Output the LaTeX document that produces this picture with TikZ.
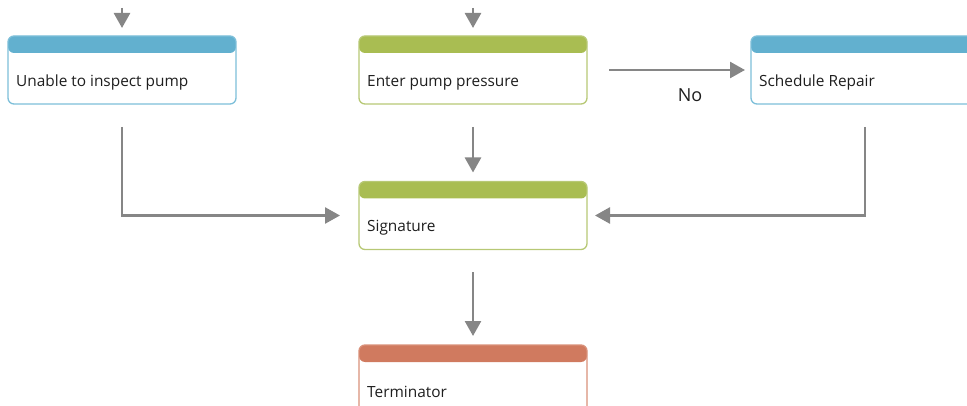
\documentclass[tikz,border=0pt]{standalone}
\usepackage{fontspec}
\setmainfont{Open Sans}
\usetikzlibrary{arrows.meta}
\definecolor{hblue}{HTML}{62B0CF}
\definecolor{bblue}{HTML}{7DBFD9}
\definecolor{hgreen}{HTML}{A9BD52}
\definecolor{bgreen}{HTML}{B7C875}
\definecolor{horange}{HTML}{D07A5F}
\definecolor{borange}{HTML}{D99079}
\definecolor{agray}{HTML}{868686}
\definecolor{tdark}{HTML}{1E1E1E}
\tikzset{
  card/.style n args={2}{rectangle, rounded corners=6pt, draw=#2, line width=1.3pt,
    minimum width=228pt, minimum height=68pt, inner sep=0pt, outer sep=0pt,
    path picture={\fill[#1] (path picture bounding box.north west) rectangle ([yshift=-17pt]path picture bounding box.north east);}},
  lbl/.style={anchor=west, inner sep=0pt, font=\fontsize{15.4}{17}\selectfont, text=tdark},
  arr/.style={draw=agray, line width=2.6pt, -{Triangle[length=15pt,width=16pt]}},
}
\begin{document}
\begin{tikzpicture}[x=1pt,y=-1pt]
\useasboundingbox (0,0) rectangle (967,406);
\node[card={hblue}{bblue}] (a) at (122,70) {};
\node[card={hgreen}{bgreen}] (b) at (473,70) {};
\node[card={hblue}{bblue}] (c) at (865,70) {};
\node[card={hgreen}{bgreen}] (s) at (473,215.5) {};
\node[card={horange}{borange}] (t) at (473,379) {};
\node[lbl] (at) at ([xshift=8pt,yshift=-12.5pt]a.west) {Unable to inspect pump};
\node[lbl] (bt) at ([xshift=8pt,yshift=-12.5pt]b.west) {Enter pump pressure};
\node[lbl] (ct) at ([xshift=8pt,yshift=-12.5pt]c.west) {Schedule Repair};
\node[lbl] (st) at ([xshift=8pt,yshift=-12.5pt]s.west) {Signature};
\node[lbl] (tt) at ([xshift=8pt,yshift=-12.5pt]t.west) {Terminator};
\node[inner sep=0pt, font=\fontsize{18}{20}\selectfont, text=tdark] (no) at (690,95) {No};
\coordinate (ta) at (122,8);
\coordinate (tb) at (473,8);
\draw[arr, shorten >=8pt] (ta) -- (a.north);
\draw[arr, shorten >=8pt] (tb) -- (b.north);
\draw[arr, shorten <=22pt, shorten >=6pt] (b.east) -- (c.west);
\draw[arr, shorten <=23pt, shorten >=9pt] (b.south) -- (s.north);
\draw[arr, shorten <=23pt, shorten >=19pt] (a.south) |- (s.west);
\draw[arr, shorten <=23pt, shorten >=8pt] (c.south) |- (s.east);
\draw[arr, shorten <=23pt, shorten >=9pt] (s.south) -- (t.north);
\end{tikzpicture}
\end{document}
